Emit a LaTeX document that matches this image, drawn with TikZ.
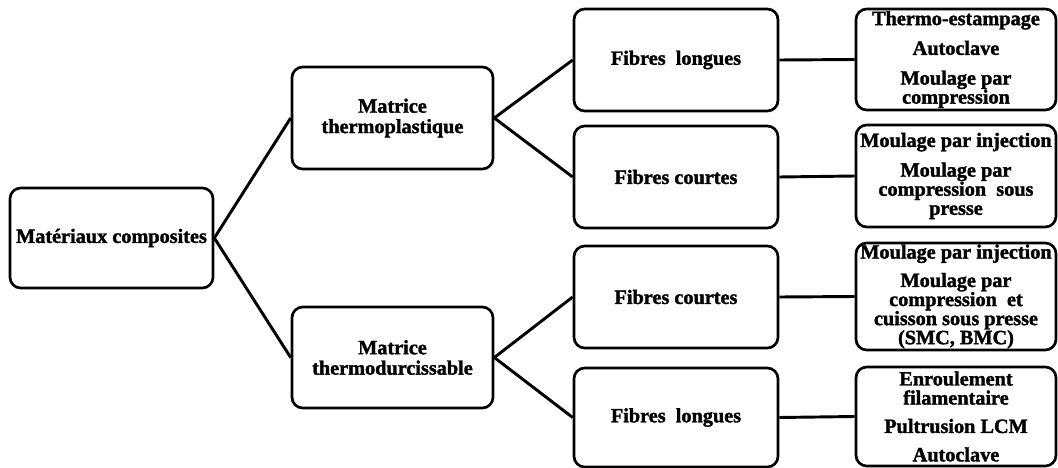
\documentclass[tikz,border=0pt]{standalone}
\usepackage{fontspec}
\setmainfont{Liberation Serif}[BoldFeatures={FakeBold=1.6}]
\tikzset{
  box/.style={draw=black, line width=2pt, rounded corners=8pt, fill=white,
    inner sep=0pt, align=center, font=\fontsize{15.2}{14.3}\selectfont\bfseries},
  link/.style={line width=2.2pt, black}
}
\begin{document}
\begin{tikzpicture}[x=0.75pt,y=-0.75pt]
\useasboundingbox (0,0) rectangle (1058,468);
% column 1
\node[box, minimum width=203*0.75pt, minimum height=100*0.75pt] (root) at (111.5,238) {Matériaux composites};
% column 2
\node[box, minimum width=201*0.75pt, minimum height=102*0.75pt] (mtp) at (392.5,118) {Matrice\\[1pt]thermoplastique};
\node[box, minimum width=201*0.75pt, minimum height=101*0.75pt] (mtd) at (392.5,357.5) {Matrice\\[1pt]thermodurcissable};
% column 3
\node[box, minimum width=204*0.75pt, minimum height=102*0.75pt] (fl1) at (676,60) {Fibres~~longues};
\node[box, minimum width=204*0.75pt, minimum height=102*0.75pt] (fc1) at (676,177) {Fibres courtes};
\node[box, minimum width=204*0.75pt, minimum height=102*0.75pt] (fc2) at (676,297) {Fibres courtes};
\node[box, minimum width=204*0.75pt, minimum height=99*0.75pt] (fl2) at (676,417.5) {Fibres~~longues};
% column 4
\node[box, minimum width=200*0.75pt, minimum height=101*0.75pt] (r1) at (956,59.5)
  {Thermo-estampage\\[8pt]Autoclave\\[8pt]Moulage par\\compression};
\node[box, minimum width=200*0.75pt, minimum height=102*0.75pt] (r2) at (956,176)
  {Moulage par injection\\[8pt]Moulage par\\compression~~sous\\presse};
\node[box, minimum width=200*0.75pt, minimum height=107*0.75pt] (r3) at (956,296.5)
  {Moulage par injection\\[7pt]Moulage par\\compression~~et\\cuisson sous presse\\(SMC, BMC)};
\node[box, minimum width=200*0.75pt, minimum height=99*0.75pt] (r4) at (956,416.5)
  {Enroulement\\filamentaire\\[7pt]Pultrusion LCM\\[7pt]Autoclave};
% connectors
\draw[link] (root.east) -- (mtp.west);
\draw[link] (root.east) -- (mtd.west);
\draw[link] (mtp.east) -- (fl1.west);
\draw[link] (mtp.east) -- (fc1.west);
\draw[link] (mtd.east) -- (fc2.west);
\draw[link] (mtd.east) -- (fl2.west);
\draw[link] (fl1.east) -- (r1.west);
\draw[link] (fc1.east) -- (r2.west);
\draw[link] (fc2.east) -- (r3.west);
\draw[link] (fl2.east) -- (r4.west);
\end{tikzpicture}
\end{document}
